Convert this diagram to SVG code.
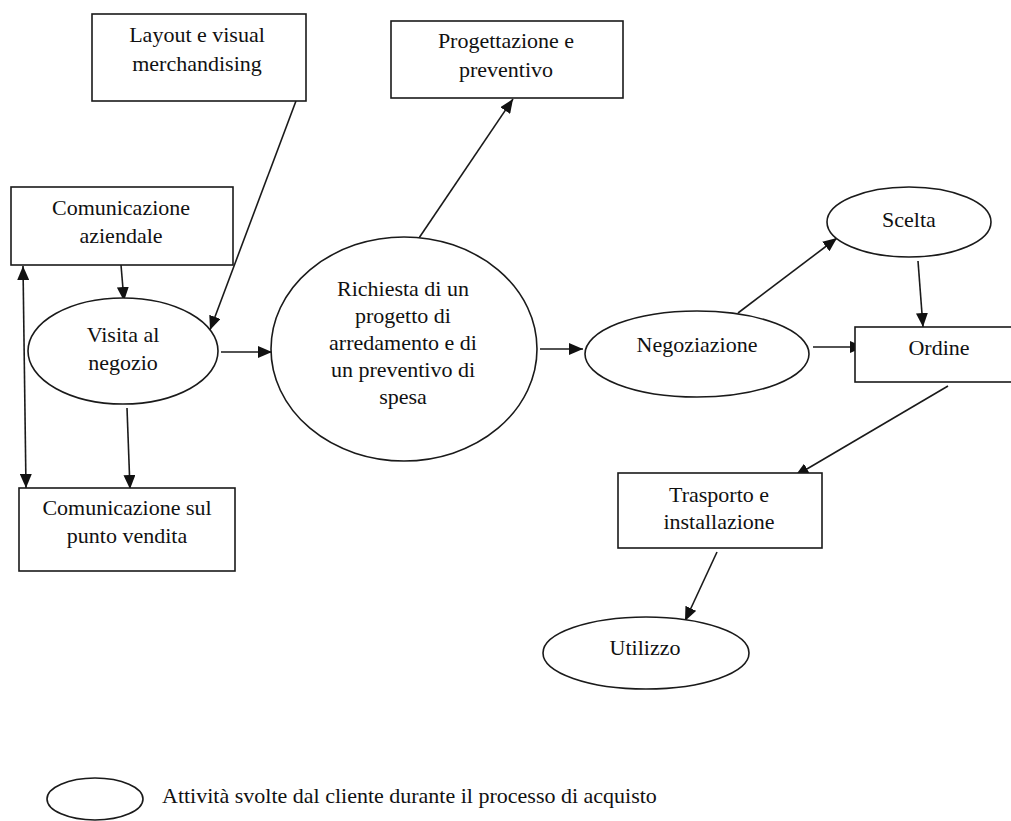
<svg xmlns="http://www.w3.org/2000/svg" width="1011" height="821" viewBox="0 0 1011 821">
<style>
.box{fill:#fff;stroke:#1a1a1a;stroke-width:1.6}
.ell{fill:#fff;stroke:#1a1a1a;stroke-width:1.6}
text{font-family:"Liberation Serif","Times New Roman",Tinos,"DejaVu Serif",serif;font-size:22px;fill:#111}
.lbl{text-anchor:middle}
.con{stroke:#1a1a1a;stroke-width:1.6;fill:none;marker-end:url(#ah)}
</style>
<defs>
<marker id="ah" viewBox="0 0 14 12" refX="14" refY="6" markerWidth="14" markerHeight="12" markerUnits="userSpaceOnUse" orient="auto-start-reverse">
<path d="M0,0 L14,6 L0,12 z" fill="#111"/>
</marker>
</defs>
<rect width="1011" height="821" fill="#fff"/>
<g id="connectors">
<line class="con" x1="296" y1="101" x2="210" y2="330"/>
<line class="con" x1="121" y1="265" x2="124" y2="301"/>
<line class="con" x1="23" y1="266" x2="26" y2="488" style="marker-start:url(#ah)"/>
<line class="con" x1="127" y1="408" x2="130" y2="489"/>
<line class="con" x1="221" y1="352" x2="272" y2="352"/>
<line class="con" x1="419" y1="238" x2="513" y2="99"/>
<line class="con" x1="540" y1="349" x2="583" y2="349"/>
<line class="con" x1="738" y1="313" x2="837" y2="238"/>
<line class="con" x1="813" y1="347" x2="864" y2="347"/>
<line class="con" x1="918" y1="261" x2="923" y2="327"/>
<line class="con" x1="948" y1="386" x2="795" y2="476"/>
<line class="con" x1="717" y1="552" x2="685" y2="621"/>
</g>
<g id="layout">
<rect class="box" x="92" y="14" width="214" height="87"/>
<text class="lbl" x="197" y="42">Layout e visual</text>
<text class="lbl" x="197" y="71">merchandising</text>
</g>
<g id="comunicazione-aziendale">
<rect class="box" x="11" y="187" width="222" height="78"/>
<text class="lbl" x="121" y="215">Comunicazione</text>
<text class="lbl" x="121" y="243">aziendale</text>
</g>
<g id="progettazione">
<rect class="box" x="391" y="21" width="232" height="77"/>
<text class="lbl" x="506" y="48">Progettazione e</text>
<text class="lbl" x="506" y="77">preventivo</text>
</g>
<g id="visita">
<ellipse class="ell" cx="123" cy="351" rx="95" ry="53"/>
<text class="lbl" x="123" y="342">Visita al</text>
<text class="lbl" x="123" y="370">negozio</text>
</g>
<g id="comunicazione-punto-vendita">
<rect class="box" x="19" y="488" width="216" height="83"/>
<text class="lbl" x="127" y="515">Comunicazione sul</text>
<text class="lbl" x="127" y="543">punto vendita</text>
</g>
<g id="richiesta">
<ellipse class="ell" cx="404" cy="349" rx="133" ry="112"/>
<text class="lbl" x="403" y="296">Richiesta di un</text>
<text class="lbl" x="403" y="323">progetto di</text>
<text class="lbl" x="403" y="350">arredamento e di</text>
<text class="lbl" x="403" y="377">un preventivo di</text>
<text class="lbl" x="403" y="404">spesa</text>
</g>
<g id="negoziazione">
<ellipse class="ell" cx="697" cy="354" rx="112" ry="43"/>
<text class="lbl" x="697" y="352">Negoziazione</text>
</g>
<g id="scelta">
<ellipse class="ell" cx="909" cy="222" rx="82" ry="35"/>
<text class="lbl" x="909" y="227">Scelta</text>
</g>
<g id="ordine">
<rect class="box" x="855" y="327" width="170" height="55"/>
<text class="lbl" x="939" y="355">Ordine</text>
</g>
<g id="trasporto">
<rect class="box" x="618" y="473" width="204" height="75"/>
<text class="lbl" x="719" y="502">Trasporto e</text>
<text class="lbl" x="719" y="529">installazione</text>
</g>
<g id="utilizzo">
<ellipse class="ell" cx="646" cy="653" rx="103" ry="36"/>
<text class="lbl" x="645" y="655">Utilizzo</text>
</g>
<g id="legend">
<ellipse class="ell" cx="95" cy="799" rx="48" ry="21"/>
<text x="162" y="803">Attività svolte dal cliente durante il processo di acquisto</text>
</g>
</svg>
